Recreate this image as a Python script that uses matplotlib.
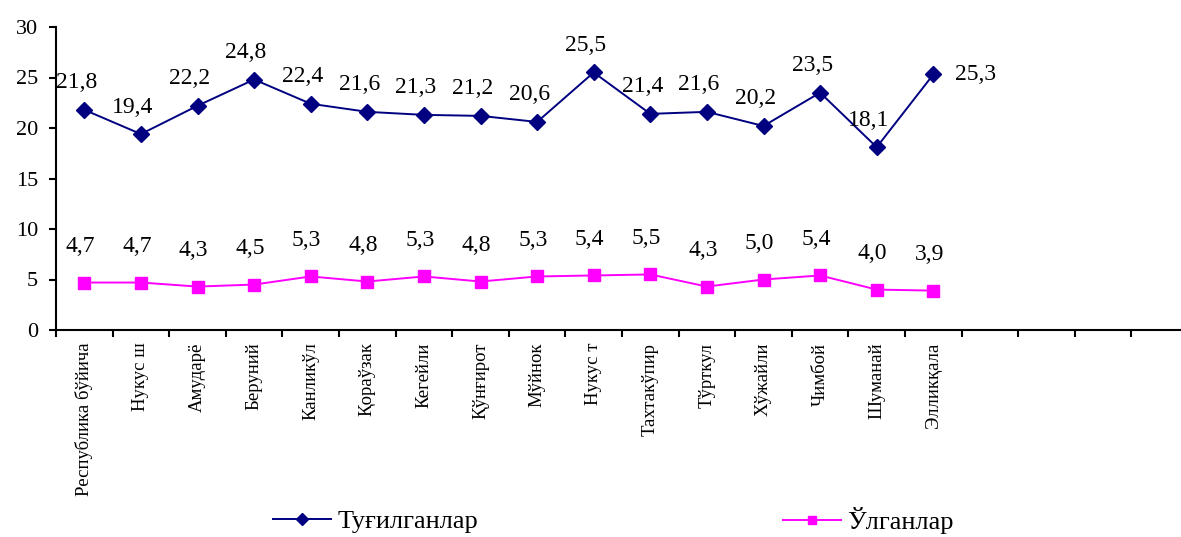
import numpy as np
import matplotlib
matplotlib.use("Agg")
import matplotlib.pyplot as plt
from matplotlib.ticker import FixedLocator

plt.rcParams['font.family'] = ['Liberation Serif', 'DejaVu Serif']

# категориялар (охирги 4 та бўш уяча)
regions = ["Республика бўйича", "Нукус ш", "Амударё", "Беруний", "Канликўл",
           "Қораўзак", "Кегейли", "Қўнғирот", "Мўйнок", "Нукус т",
           "Тахтакўпир", "Тўрткул", "Хўжайли", "Чимбой", "Шуманай", "Элликқала"]
n_slots = 20

born = [21.8, 19.4, 22.2, 24.8, 22.4, 21.6, 21.3, 21.2, 20.6, 25.5,
        21.4, 21.6, 20.2, 23.5, 18.1, 25.3]
died = [4.7, 4.7, 4.3, 4.5, 5.3, 4.8, 5.3, 4.8, 5.3, 5.4,
        5.5, 4.3, 5.0, 5.4, 4.0, 3.9]

def fmt(v):
    return f"{v:.1f}".replace(".", ",")

fig = plt.figure(figsize=(11.81, 5.37), dpi=100)
ax = fig.add_axes([56/1181, 1-330/537, 1132/1181, 303/537])

x = np.arange(len(regions))
l1, = ax.plot(x, born, color="#000080", marker="D", markersize=8, lw=1.4, label="Туғилганлар")
l2, = ax.plot(x, died, color="#FF00FF", marker="s", markersize=8, lw=1.4, label="Ўлганлар")

# маълумот ёрлиқлари
for i, v in enumerate(born):
    off = (-8, 27)
    if i == len(born) - 1:
        off = (42, 0)
    ax.annotate(fmt(v), (i, v), textcoords="offset pixels", xytext=off,
                ha="center", va="center", fontsize=17)
for i, v in enumerate(died):
    ax.annotate(fmt(v), (i, v), textcoords="offset pixels", xytext=(-4, 36),
                ha="center", va="center", fontsize=17)

ax.set_xlim(-0.5, n_slots - 0.5)
ax.set_ylim(0, 30)
ax.set_yticks(range(0, 31, 5))
ax.tick_params(axis="y", labelsize=16, length=5, width=1.5, direction="out", pad=8)

ax.set_xticks(x)
ax.set_xticklabels(regions, rotation=90, fontsize=13.5, va="top")
ax.xaxis.set_minor_locator(FixedLocator(np.arange(-0.5, n_slots, 1)))
ax.tick_params(axis="x", which="major", length=0, pad=9)
ax.tick_params(axis="x", which="minor", length=5, width=1.5, direction="out")

for s in ["top", "right"]:
    ax.spines[s].set_visible(False)
for s in ["left", "bottom"]:
    ax.spines[s].set_linewidth(1.5)

leg1 = fig.legend(handles=[l1], loc="center left", bbox_to_anchor=(262/1181, 1-521/537),
                  frameon=False, fontsize=19, handlelength=2.2, handletextpad=0.25,
                  borderaxespad=0, markerscale=0.8)
leg2 = fig.legend(handles=[l2], loc="center left", bbox_to_anchor=(772/1181, 1-521/537),
                  frameon=False, fontsize=19, handlelength=2.2, handletextpad=0.25,
                  borderaxespad=0, markerscale=0.8)

fig.savefig("out.png", dpi=100)
